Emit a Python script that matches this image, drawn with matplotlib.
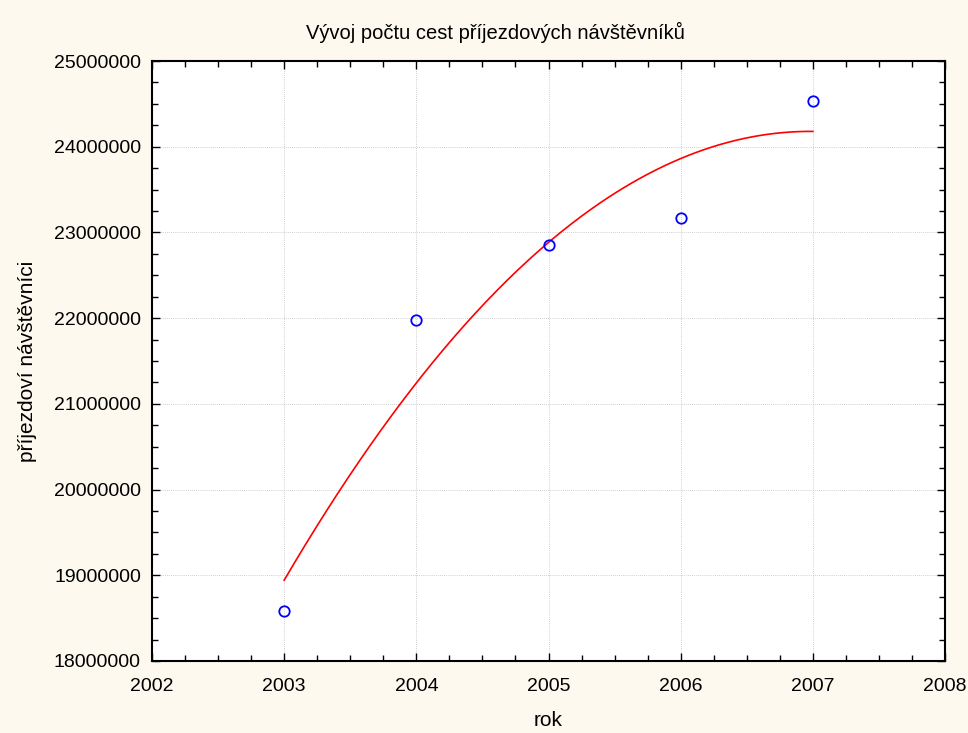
import numpy as np
import matplotlib
matplotlib.use("Agg")
import matplotlib.pyplot as plt
from matplotlib.ticker import MultipleLocator, AutoMinorLocator

years = [2003, 2004, 2005, 2006, 2007]
visitors = [18580000, 21980000, 22850000, 23170000, 24530000]

title = "Vývoj počtu cest příjezdových návštěvníků"
xlabel = "rok"
ylabel = "příjezdoví návštěvníci"

plt.rcParams['font.family'] = ['Liberation Sans', 'DejaVu Sans']

bg = '#fdf9ef'
fig = plt.figure(figsize=(9.68, 7.33), dpi=100, facecolor=bg)
ax = fig.add_axes([152/968, 1-661/733, (945-152)/968, (661-61)/733])
ax.set_facecolor('white')

# quadratic least-squares fit
coef = np.polyfit(years, visitors, 2)
xs = np.linspace(min(years), max(years), 200)
ax.plot(xs, np.polyval(coef, xs), color='#ff0000', lw=1.2, zorder=3)
ax.plot(years, visitors, 'o', mfc='none', mec='#0000ff', ms=7.5, mew=1.3, zorder=4)

ax.set_xlim(2002, 2008)
ax.set_ylim(18000000, 25000000)
ax.xaxis.set_major_locator(MultipleLocator(1))
ax.yaxis.set_major_locator(MultipleLocator(1000000))
ax.xaxis.set_minor_locator(AutoMinorLocator(4))
ax.yaxis.set_minor_locator(AutoMinorLocator(4))
ax.ticklabel_format(useOffset=False, style='plain')
ax.tick_params(which='both', direction='in', top=True, right=True, colors='black', labelsize=14)
ax.tick_params(which='major', length=6, width=1)
ax.tick_params(which='minor', length=4, width=1)
ax.tick_params(axis='x', pad=12)
ax.tick_params(axis='y', pad=8)
ax.grid(True, which='major', color='#c0c0c0', ls=(0, (1, 1.5)), lw=0.6)
for s in ax.spines.values():
    s.set_linewidth(1.5)

fig.text(495/968, 1-32/733, title, fontsize=14.5, ha='center', va='center')
ax.set_xlabel(xlabel, fontsize=15, labelpad=12)
ax.set_ylabel(ylabel, fontsize=15, labelpad=12)

fig.savefig('out.png', dpi=100, facecolor=bg)
